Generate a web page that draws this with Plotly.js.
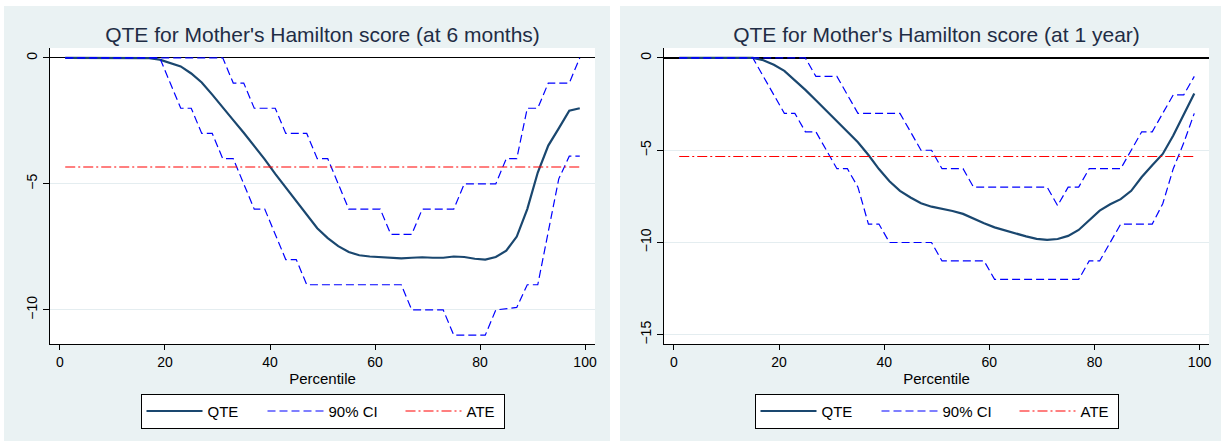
<!DOCTYPE html>
<html>
<head>
<meta charset="utf-8">
<script src="https://cdn.plot.ly/plotly-3.0.1.min.js"></script>
<style>
    body { margin: 0; background: #ffffff; width: 1221px; height: 441px; overflow: hidden; position: relative; }
    #qte_6m { position: absolute; left: 4px; top: 6px; }
    #qte_1y { position: absolute; left: 620px; top: 6px; }
</style>
</head>
<body>
<div id="qte_6m"></div>
<div id="qte_1y"></div>
<script>
// percentiles at which the QTE was estimated
const percentiles = [1, 3, 5, 7, 9, 11, 13, 15, 17, 19, 21, 23, 25, 27, 29, 31, 33, 35, 37, 39,
    41, 43, 45, 47, 49, 51, 53, 55, 57, 59, 61, 63, 65, 67, 69, 71, 73, 75, 77, 79,
    81, 83, 85, 87, 89, 91, 93, 95, 97, 99];

// at 6 months
const qte6m = [0, 0, 0, 0, 0, 0, 0, 0, -0.01, -0.07, -0.2, -0.34, -0.62, -0.98, -1.46, -1.98, -2.47, -2.97, -3.49, -4.03,
    -4.6, -5.13, -5.68, -6.23, -6.76, -7.15, -7.47, -7.7, -7.83, -7.88, -7.91, -7.93, -7.95, -7.93, -7.91, -7.93, -7.93, -7.88, -7.9, -7.97,
    -8.0, -7.9, -7.65, -7.09, -6.0, -4.55, -3.48, -2.8, -2.1, -2.0];
const upper6m = [0, 0, 0, 0, 0, 0, 0, 0, 0, 0, 0, 0, 0, 0, 0, 0, -1, -1, -2, -2,
    -2, -3, -3, -3, -4, -4, -5, -6, -6, -6, -6, -7, -7, -7, -6, -6, -6, -6, -5, -5,
    -5, -5, -4, -4, -2, -2, -1, -1, -1, 0];
const lower6m = [0, 0, 0, 0, 0, 0, 0, 0, 0, 0, -1, -2, -2, -3, -3, -4, -4, -5, -6, -6,
    -7, -8, -8, -9, -9, -9, -9, -9, -9, -9, -9, -9, -9, -10, -10, -10, -10, -11, -11, -11,
    -11, -10, -9.95, -9.9, -9, -9, -6.9, -4.8, -3.9, -3.9];
const ate6m = -4.33;

// at 1 year
const qte1y = [0, 0, 0, 0, 0, 0, 0, 0, -0.12, -0.37, -0.7, -1.19, -1.73, -2.29, -2.87, -3.43, -3.99, -4.57, -5.26, -6.02,
    -6.68, -7.2, -7.56, -7.87, -8.06, -8.17, -8.29, -8.45, -8.72, -8.96, -9.18, -9.35, -9.5, -9.67, -9.8, -9.86, -9.81, -9.64, -9.32, -8.77,
    -8.27, -7.93, -7.65, -7.2, -6.45, -5.81, -5.2, -4.2, -3.1, -1.92];
const upper1y = [0, 0, 0, 0, 0, 0, 0, 0, 0, 0, 0, 0, 0, -1, -1, -1, -2, -3, -3, -3,
    -3, -3, -4, -5, -5, -6, -6, -6, -7, -7, -7, -7, -7, -7, -7, -7, -8, -7, -7, -6,
    -6, -6, -6, -5, -4, -4, -3, -2, -2, -1];
const lower1y = [0, 0, 0, 0, 0, 0, 0, 0, -1, -2, -3, -3, -4, -4, -5, -6, -6, -7, -9, -9,
    -10, -10, -10, -10, -10, -11, -11, -11, -11, -11, -12, -12, -12, -12, -12, -12, -12, -12, -12, -11,
    -11, -10, -9, -9, -9, -9, -7.9, -6, -4.6, -3];
const ate1y = -5.34;

const xTicks = [0, 20, 40, 60, 80, 100];
const legendNames = ['QTE', '90% CI', 'ATE'];

const FONT = 'Liberation Sans, Arial, Helvetica, sans-serif';

function drawPanel(el, title, qte, upper, lower, ate, opts) {
    const ciLine = { color: '#0000ff', width: 1.2, dash: '8px,4px' };
    const first = percentiles[0];
    const last = percentiles[percentiles.length - 1];

    const traces = [
        {
            x: percentiles, y: qte, mode: 'lines', name: legendNames[0],
            line: { color: '#1a476f', width: 2.2 },
            legendwidth: 50,
        },
        {
            x: percentiles, y: upper, mode: 'lines', name: legendNames[1],
            line: ciLine, showlegend: false, legendgroup: 'ci',
        },
        {
            x: percentiles, y: lower, mode: 'lines', name: legendNames[1],
            line: ciLine, legendgroup: 'ci',
            legendwidth: 67,
        },
        {
            x: [first, last], y: [ate, ate], mode: 'lines', name: legendNames[2],
            line: { color: '#ff0000', width: 1.2, dash: '10px,3px,2px,3px' },
            legendwidth: 32,
        },
    ];

    const layout = {
        width: opts.width,
        height: 435,
        margin: opts.margin,
        paper_bgcolor: '#eaf2f3',
        plot_bgcolor: '#ffffff',
        font: { family: FONT, size: 14, color: '#000000' },
        showlegend: true,
        title: {
            text: title,
            font: { family: FONT, size: 21, color: '#1f2d45' },
            x: 0.5, xref: 'paper', xanchor: 'center',
            y: 1 - 29 / 435, yref: 'container', yanchor: 'middle',
        },
        xaxis: {
            range: opts.xRange,
            tickvals: xTicks,
            ticks: 'outside', ticklen: 5, tickcolor: '#000000', tickwidth: 1,
            showline: true, linecolor: '#000000', linewidth: 1.2,
            showgrid: false, zeroline: false,
            title: { text: 'Percentile', font: { size: 15 }, standoff: 4 },
        },
        yaxis: {
            range: opts.yRange,
            tickvals: opts.yTicks,
            tickangle: -90,
            ticks: 'outside', ticklen: 6, tickcolor: '#000000', tickwidth: 1,
            showline: true, linecolor: '#000000', linewidth: 1.2,
            showgrid: true, gridcolor: '#e4edf0', gridwidth: 1,
            zeroline: true, zerolinecolor: '#000000', zerolinewidth: 1.3,
        },
        legend: {
            orientation: 'h',
            x: 0.5, xanchor: 'center',
            y: -0.168, yanchor: 'top',
            bgcolor: '#ffffff', bordercolor: '#000000', borderwidth: 1,
            font: { size: 15 },
            itemwidth: 56,
            traceorder: 'normal',
        },
    };

    Plotly.newPlot(el, traces, layout, { displayModeBar: false, staticPlot: true });
}

drawPanel('qte_6m', "QTE for Mother's Hamilton score (at 6 months)", qte6m, upper6m, lower6m, ate6m, {
    width: 606,
    margin: { l: 46, r: 15, t: 42, b: 94 },
    xRange: [-1.9, 101.9],
    yRange: [-11.35, 0.39],
    yTicks: [0, -5, -10],
});

drawPanel('qte_1y', "QTE for Mother's Hamilton score (at 1 year)", qte1y, upper1y, lower1y, ate1y, {
    width: 601,
    margin: { l: 44, r: 12, t: 42, b: 94 },
    xRange: [-1.9, 101.8],
    yRange: [-15.5, 0.54],
    yTicks: [0, -5, -10, -15],
});
</script>
</body>
</html>
